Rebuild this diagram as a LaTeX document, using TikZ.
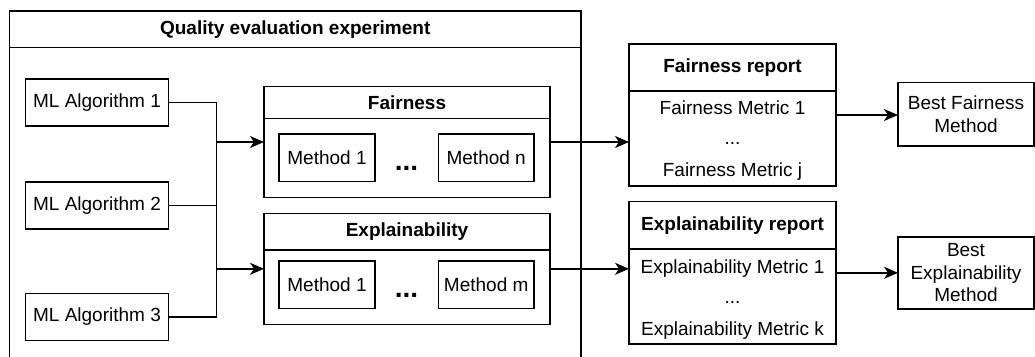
\documentclass[tikz,border=0pt]{standalone}
\usepackage{fontspec}
\setmainfont{Liberation Sans}
\usetikzlibrary{arrows.meta}
\begin{document}
\begin{tikzpicture}[x=1pt,y=-1pt,
  font=\fontsize{19pt}{22.5pt}\selectfont,
  line width=1.5pt,
  box/.style={draw, line width=1.5pt, inner sep=0pt, outer sep=0pt, align=center},
  lbl/.style={inner sep=0pt, outer sep=0pt, align=center},
  ttl/.style={lbl, font=\fontsize{19pt}{22.5pt}\selectfont\bfseries},
  bigdots/.style={lbl, font=\fontsize{28pt}{30pt}\selectfont\bfseries},
  arr/.style={-{Stealth[length=14pt,width=12pt,inset=4pt]}, line width=1.5pt},
  wire/.style={line width=1.5pt}]
\useasboundingbox (0,0) rectangle (1035,356);
\clip (0,0) rectangle (1035,356);

% outer container
\node[box, minimum width=571.7pt, minimum height=360pt, anchor=north west] (outer) at (9.3,11) {};
\draw[wire] ([yshift=-36.3pt]outer.north west) -- ([yshift=-36.3pt]outer.north east);
\node[ttl] (outertitle) at (295.2,29.5) {Quality evaluation experiment};

% ML algorithms
\node[box, minimum width=142.6pt, minimum height=47pt] (ml1) at (97,102.5) {ML Algorithm 1};
\node[box, minimum width=142.6pt, minimum height=47pt] (ml2) at (97,205.7) {ML Algorithm 2};
\node[box, minimum width=142.6pt, minimum height=47pt] (ml3) at (97,316.8) {ML Algorithm 3};

% Fairness container
\node[box, minimum width=286pt, minimum height=110.6pt] (fair) at (407,142) {};
\draw[wire] ([yshift=-31.6pt]fair.north west) -- ([yshift=-31.6pt]fair.north east);
\node[ttl] (fairtitle) at (407,102.5) {Fairness};
\node[box, minimum width=96pt, minimum height=47.7pt] (fm1) at (327,157.8) {Method 1};
\node[box, minimum width=95.7pt, minimum height=47.7pt] (fmn) at (486.2,157.8) {Method n};
\node[bigdots] (fdots) at (406.5,168.3) {...};

% Explainability container
\node[box, minimum width=286pt, minimum height=111pt] (expl) at (407,268.8) {};
\draw[wire] ([yshift=-36.7pt]expl.north west) -- ([yshift=-36.7pt]expl.north east);
\node[ttl] (expltitle) at (407,232) {Explainability};
\node[box, minimum width=96pt, minimum height=47.7pt] (em1) at (327,284.8) {Method 1};
\node[box, minimum width=95.7pt, minimum height=47.7pt] (emm) at (486.2,284.8) {Method m};
\node[bigdots] (edots) at (406.5,295.3) {...};

% Fairness report
\node[box, minimum width=207pt, minimum height=142pt] (frep) at (732.5,115) {};
\draw[wire] ([yshift=-47pt]frep.north west) -- ([yshift=-47pt]frep.north east);
\node[ttl] (freptitle) at (732.5,67.5) {Fairness report};
\node[lbl, anchor=base] (fmet1) at (732.5,114.5) {Fairness Metric 1};
\node[lbl, anchor=base] (fmetd) at (732.5,144) {...};
\node[lbl, anchor=base] (fmetj) at (732.5,176.8) {Fairness Metric j};

% Explainability report
\node[box, minimum width=207pt, minimum height=142.3pt] (erep) at (732.5,272.8) {};
\draw[wire] ([yshift=-47.3pt]erep.north west) -- ([yshift=-47.3pt]erep.north east);
\node[ttl] (ereptitle) at (732.5,226) {Explainability report};
\node[lbl, anchor=base] (emet1) at (732.5,273.5) {Explainability Metric 1};
\node[lbl, anchor=base] (emetd) at (732.5,303) {...};
\node[lbl, anchor=base] (emetk) at (732.5,335.8) {Explainability Metric k};

% Best methods
\node[box, minimum width=136pt, minimum height=63.3pt] (bestf) at (966,114.3) {Best Fairness\\Method};
\node[box, minimum width=136pt, minimum height=72pt] (beste) at (966,273) {Best\\Explainability\\Method};

% connectors
\coordinate (ttop) at (216.7,102.5);
\coordinate (tbot) at (216.7,316.8);
\draw[wire] (ml1.east) -- (ttop) -- (tbot) -- (ml3.east);
\draw[wire] (ml2.east) -- (ml2.east -| ttop);
\draw[arr] (fair.west -| ttop) -- (fair.west);
\draw[arr] (expl.west -| ttop) -- (expl.west);
\draw[arr] (fair.east) -- (fair.east -| frep.west);
\draw[arr] (expl.east) -- (expl.east -| erep.west);
\draw[arr] (frep.east) -- (frep.east -| bestf.west);
\draw[arr] (erep.east) -- (erep.east -| beste.west);
\end{tikzpicture}
\end{document}
